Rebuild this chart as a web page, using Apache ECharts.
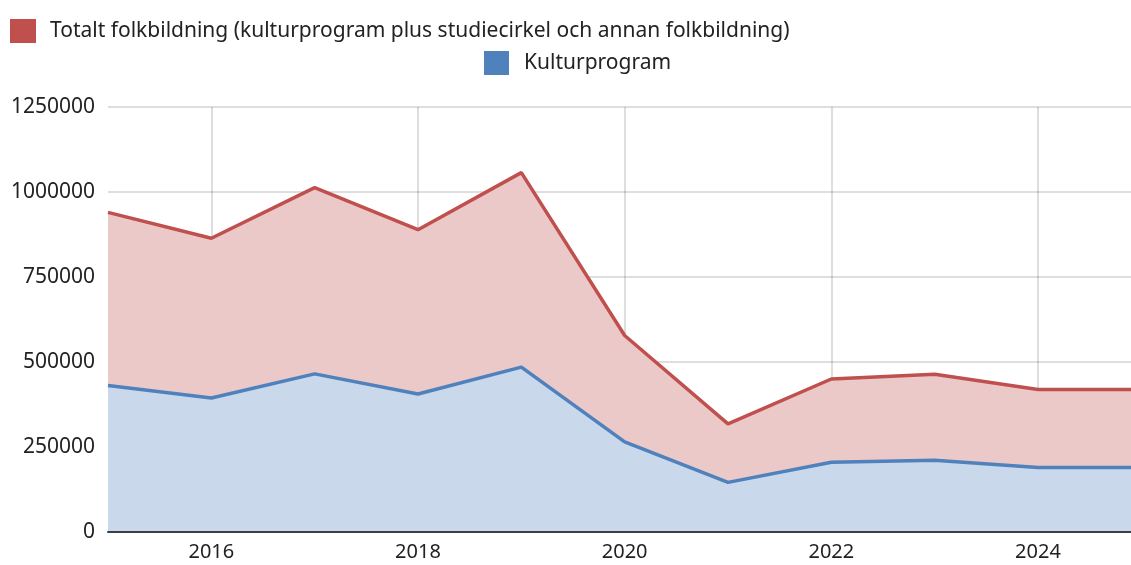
<!DOCTYPE html>
<html>
<head>
<meta charset="utf-8">
<script src="https://cdn.jsdelivr.net/npm/echarts@6/dist/echarts.min.js"></script>
<style>
  html, body { margin: 0; padding: 0; background: #fff; }
  #chart { width: 1131px; height: 565px; }
</style>
</head>
<body>
<div id="chart"></div>
<script>
// år (sista punkten ligger precis utanför bildkanten)
var years = [2015, 2016, 2017, 2018, 2019, 2020, 2021, 2022, 2023, 2024, 2025];
var totalt = [940000, 864000, 1013000, 889000, 1057000, 578000, 318000, 450000, 464000, 419000, 419000];
var kultur = [431000, 394000, 465000, 406000, 485000, 265000, 146000, 205000, 211000, 190000, 190000];
var xTicks = [2016, 2018, 2020, 2022, 2024];
var yTicks = [0, 250000, 500000, 750000, 1000000, 1250000];

var nameTotalt = "Totalt folkbildning (kulturprogram plus studiecirkel och annan folkbildning)";
var nameKultur = "Kulturprogram";

var font = "Noto Sans";
var gridColor = "rgba(0,0,0,0.13)";

function pairs(vals) {
  return years.map(function (y, i) { return [y, vals[i]]; });
}

var myChart = echarts.init(document.getElementById("chart"));
var option = {
  animation: false,
  textStyle: { fontFamily: font },
  legend: [
    {
      data: [nameTotalt],
      left: 5,
      top: 14,
      icon: "rect",
      itemWidth: 26,
      itemHeight: 24,
      textStyle: { fontFamily: font, fontSize: 21, color: "#222", padding: [0, 0, 0, 9] }
    },
    {
      data: [nameKultur],
      left: 479,
      top: 46,
      icon: "rect",
      itemWidth: 25,
      itemHeight: 24,
      textStyle: { fontFamily: font, fontSize: 21, color: "#222", padding: [0, 0, 0, 10] }
    }
  ],
  grid: {
    left: 108,
    right: 0,
    top: 107,
    bottom: 33,
    containLabel: false
  },
  xAxis: {
    type: "value",
    min: 2015,
    max: 2024.9,
    z: 3,
    axisLine: { show: true, onZero: false, lineStyle: { color: "#3c3f44", width: 2 } },
    axisTick: { show: false, customValues: xTicks },
    axisLabel: {
      customValues: xTicks,
      formatter: function (v) { return String(v); },
      fontFamily: font,
      fontSize: 20,
      color: "#222",
      margin: 10
    },
    splitLine: {
      show: true,
      lineStyle: { color: gridColor, width: 2 }
    }
  },
  yAxis: {
    type: "value",
    min: yTicks[0],
    max: yTicks[yTicks.length - 1],
    interval: yTicks[1] - yTicks[0],
    z: 3,
    axisLine: { show: false },
    axisTick: { show: false },
    axisLabel: {
      formatter: function (v) { return String(v); },
      fontFamily: font,
      fontSize: 21,
      color: "#222",
      margin: 13
    },
    splitLine: {
      show: true,
      lineStyle: { color: gridColor, width: 2 }
    }
  },
  series: [
    {
      name: nameTotalt,
      type: "line",
      data: pairs(totalt),
      symbol: "none",
      clip: true,
      itemStyle: { color: "#c0504d" },
      lineStyle: { color: "#c0504d", width: 3.5 },
      areaStyle: { color: "#ecc9c9", opacity: 1 }
    },
    {
      name: nameKultur,
      type: "line",
      data: pairs(kultur),
      symbol: "none",
      clip: true,
      itemStyle: { color: "#4f81bd" },
      lineStyle: { color: "#4f81bd", width: 3.5 },
      areaStyle: { color: "#c9d8eb", opacity: 1 }
    }
  ]
};
myChart.setOption(option, true);

window.addEventListener("resize", function () {
  myChart.resize();
});
</script>
</body>
</html>
